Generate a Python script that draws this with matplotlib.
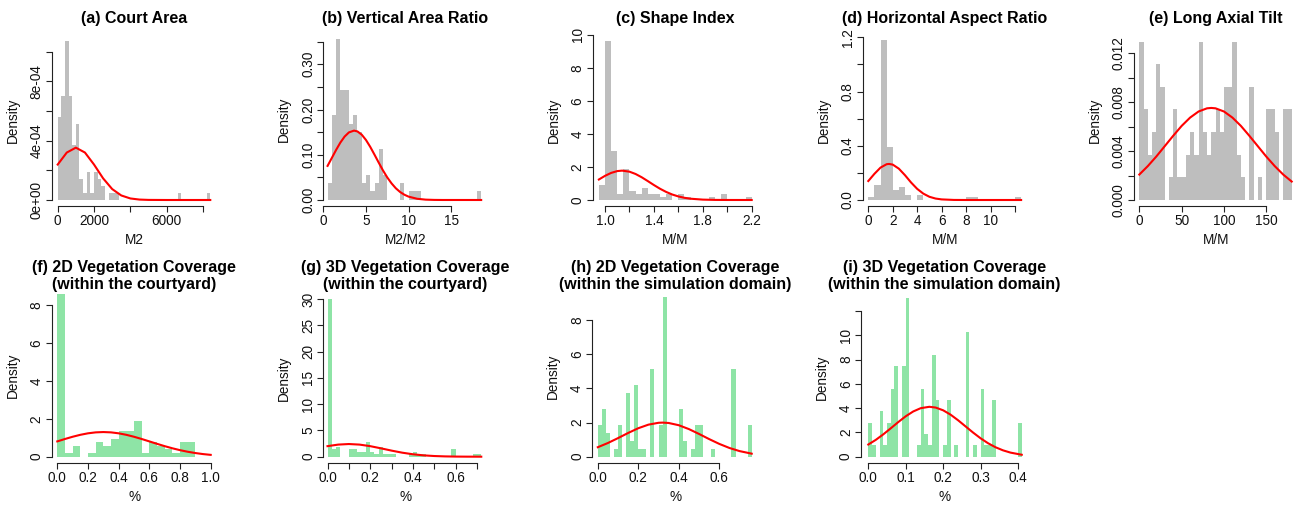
import numpy as np
import matplotlib.pyplot as plt

W, H = 1295, 505
plt.rcParams['font.family'] = ['Liberation Sans', 'DejaVu Sans']

GRAY = '#bebebe'
GREEN = '#8ee4a6'

# ---- (a) Court Area ----
a_start, a_width = 0, 200
a_density = [5.61e-4, 7.01e-4, 10.75e-4, 7.01e-4, 3.74e-4, 5.14e-4, 1.40e-4, 0.47e-4,
             1.87e-4, 0.47e-4, 1.87e-4, 1.40e-4, 0.93e-4, 0, 0.47e-4, 0.47e-4, 0.47e-4,
             0, 0, 0, 0, 0, 0, 0, 0, 0, 0, 0, 0, 0, 0, 0, 0,
             0.47e-4, 0, 0, 0, 0, 0, 0, 0, 0.47e-4]
a_curve_x = [0, 500, 1000, 1500, 2000, 2500, 3000, 3500, 4000, 4500, 5000, 6000, 7000, 8400]
a_curve_y = [2.39e-4, 3.20e-4, 3.53e-4, 3.20e-4, 2.39e-4, 1.46e-4, 0.737e-4, 0.306e-4,
             0.104e-4, 0.029e-4, 0.0067e-4, 0.0001e-4, 0, 0]
a_xticks = [0, 2000, 4000, 6000, 8000]
a_xlabels = ['0', '2000', '', '6000', '']
a_yticks = [0, 2e-4, 4e-4, 6e-4, 8e-4, 1e-3]
a_ylabels = ['0e+00', '', '4e-04', '', '8e-04', '']

# ---- (b) Vertical Area Ratio ----
b_start, b_width = 0.5, 0.5
b_density = [0.037, 0.187, 0.355, 0.243, 0.243, 0.168, 0.187, 0.150, 0.037, 0.056, 0.019,
             0.037, 0.112, 0.056, 0, 0, 0, 0.037, 0, 0.019, 0.019, 0.019,
             0, 0, 0, 0, 0, 0, 0, 0, 0, 0, 0, 0, 0, 0.019]
b_curve_x = [0.5, 1.0, 1.5, 2.0, 2.5, 3.0, 3.6, 4.0, 4.5, 5.0, 5.5, 6.0, 6.5, 7.0, 7.5,
             8.0, 8.5, 9.0, 9.5, 10.0, 11.0, 12.0, 13.0, 14.0, 18.5]
b_curve_y = [0.0754, 0.0930, 0.1107, 0.1270, 0.1403, 0.1494, 0.1534, 0.1516, 0.1445, 0.1327,
             0.1175, 0.1002, 0.0824, 0.0652, 0.0498, 0.0367, 0.0259, 0.0177, 0.0117, 0.0074,
             0.0027, 0.0008, 0.0002, 0.00004, 0]
b_xticks = [0, 5, 10, 15]
b_xlabels = ['0', '5', '10', '15']
b_yticks = [0, 0.05, 0.10, 0.15, 0.20, 0.25, 0.30, 0.35]
b_ylabels = ['0.00', '', '0.10', '', '0.20', '', '0.30', '']

# ---- (c) Shape Index ----
c_start, c_width = 0.95, 0.05
c_density = [0.926, 9.630, 2.963, 0.370, 1.852, 0.556, 0.370, 0.741, 0.370, 0.370, 0.185,
             0.370, 0, 0.370, 0.185, 0, 0, 0, 0.185, 0, 0.370, 0, 0, 0, 0.185]
c_curve_x = [0.95, 1.00, 1.05, 1.10, 1.14, 1.20, 1.25, 1.30, 1.35, 1.40, 1.45, 1.50, 1.55,
             1.60, 1.65, 1.70, 1.80, 1.90, 2.00, 2.20]
c_curve_y = [1.242, 1.464, 1.641, 1.752, 1.780, 1.717, 1.577, 1.379, 1.147, 0.907, 0.683,
             0.490, 0.333, 0.216, 0.133, 0.078, 0.023, 0.0056, 0.001, 0]
c_xticks = [1.0, 1.2, 1.4, 1.6, 1.8, 2.0, 2.2]
c_xlabels = ['1.0', '', '1.4', '', '1.8', '', '2.2']
c_yticks = [0, 2, 4, 6, 8, 10]
c_ylabels = ['0', '2', '4', '6', '8', '10']

# ---- (d) Horizontal Aspect Ratio ----
d_start, d_width = 0, 0.5
d_density = [0.019, 0.112, 1.178, 0.393, 0.075, 0.093, 0.037, 0, 0.037, 0, 0, 0, 0, 0, 0, 0,
             0.019, 0.019, 0, 0, 0, 0, 0, 0, 0.019]
d_curve_x = [0, 0.5, 1.0, 1.5, 1.7, 2.0, 2.5, 3.0, 3.5, 4.0, 4.5, 5.0, 5.5, 6.0, 7.0, 8.0, 12.5]
d_curve_y = [0.140, 0.193, 0.239, 0.264, 0.266, 0.261, 0.231, 0.183, 0.129, 0.082, 0.047,
             0.0237, 0.0107, 0.0044, 0.0005, 0, 0]
d_xticks = [0, 2, 4, 6, 8, 10, 12]
d_xlabels = ['0', '2', '4', '6', '8', '10', '']
d_yticks = [0, 0.2, 0.4, 0.6, 0.8, 1.0, 1.2]
d_ylabels = ['0.0', '', '0.4', '', '0.8', '', '1.2']

# ---- (e) Long Axial Tilt ----
e_start, e_width = 0, 5
e_density = [0.01296, 0.00741, 0.00370, 0.00556, 0.01111, 0.00926, 0, 0.00185, 0.00741,
             0.00185, 0.00185, 0.00370, 0.00556, 0.00370, 0.01296, 0.00556, 0.00370,
             0.00556, 0.00741, 0.00556, 0.00926, 0.00926, 0.01296, 0.00370, 0.00185, 0,
             0.00926, 0, 0.00185, 0, 0.00741, 0.00741, 0.00556, 0, 0.00741, 0.00741]
e_curve_x = [0, 10, 20, 30, 40, 50, 60, 70, 80, 85, 90, 100, 110, 120, 130, 140, 150,
             160, 170, 180]
e_curve_y = [0.00208, 0.00277, 0.00355, 0.00440, 0.00525, 0.00606, 0.00674, 0.00724,
             0.00750, 0.00753, 0.00750, 0.00724, 0.00674, 0.00606, 0.00525, 0.00440,
             0.00355, 0.00277, 0.00208, 0.00151]
e_xticks = [0, 50, 100, 150]
e_xlabels = ['0', '50', '100', '150']
e_yticks = [0, 0.002, 0.004, 0.006, 0.008, 0.010, 0.012]
e_ylabels = ['0.000', '', '0.004', '', '0.008', '', '0.012']

# ---- (f) 2D Vegetation Coverage (courtyard) ----
f_start, f_width = 0, 0.05
f_density = [8.571, 0.190, 0.571, 0, 0.190, 0.762, 0.571, 0.952, 1.333, 1.333, 1.905,
             0.190, 0.762, 0.571, 0.381, 0.190, 0.762, 0.762, 0, 0]
f_curve_x = [0, 0.05, 0.10, 0.15, 0.20, 0.25, 0.30, 0.35, 0.40, 0.45, 0.50, 0.55, 0.60,
             0.65, 0.70, 0.75, 0.80, 0.85, 0.90, 0.95, 1.00]
f_curve_y = [0.807, 0.934, 1.052, 1.154, 1.233, 1.283, 1.300, 1.283, 1.233, 1.154, 1.052,
             0.934, 0.807, 0.679, 0.556, 0.444, 0.345, 0.261, 0.193, 0.138, 0.097]
f_xticks = [0, 0.2, 0.4, 0.6, 0.8, 1.0]
f_xlabels = ['0.0', '0.2', '0.4', '0.6', '0.8', '1.0']
f_yticks = [0, 2, 4, 6, 8]
f_ylabels = ['0', '2', '4', '6', '8']

# ---- (g) 3D Vegetation Coverage (courtyard) ----
g_start, g_width = 0, 0.02
g_density = [29.907, 1.402, 1.869, 0, 0, 1.402, 1.402, 0.935, 0.935, 2.804, 0.935, 0.467,
             1.869, 0.467, 0.467, 0.467, 0, 0, 0, 0.467, 0.935, 0.467, 0.467, 0, 0, 0, 0,
             0, 0, 1.402, 0, 0, 0, 0, 0.467, 0.467]
g_curve_x = [0, 0.05, 0.10, 0.15, 0.20, 0.25, 0.30, 0.35, 0.40, 0.45, 0.50, 0.55, 0.60,
             0.65, 0.72]
g_curve_y = [2.006, 2.302, 2.410, 2.302, 2.006, 1.595, 1.156, 0.765, 0.462, 0.254, 0.128,
             0.0585, 0.0244, 0.0093, 0.002]
g_xticks = [0, 0.1, 0.2, 0.3, 0.4, 0.5, 0.6, 0.7]
g_xlabels = ['0.0', '', '0.2', '', '0.4', '', '0.6', '']
g_yticks = [0, 5, 10, 15, 20, 25, 30]
g_ylabels = ['0', '5', '10', '15', '20', '25', '30']

# ---- (h) 2D Vegetation Coverage (simulation domain) ----
h_start, h_width = 0, 0.02
h_density = [1.869, 2.804, 1.402, 0, 0.467, 1.869, 0, 3.738, 0.935, 4.206, 0.467, 0.467, 0,
             5.140, 0, 1.869, 9.346, 0, 0, 0, 2.804, 0.935, 0, 0.467, 1.869, 1.869, 0, 0,
             0.467, 0, 0, 0, 0, 5.140, 0, 0, 0, 1.869]
h_curve_x = [0, 0.05, 0.10, 0.15, 0.20, 0.25, 0.30, 0.32, 0.35, 0.40, 0.45, 0.50, 0.55,
             0.60, 0.65, 0.70, 0.76]
h_curve_y = [0.555, 0.802, 1.089, 1.390, 1.667, 1.876, 1.985, 1.995, 1.973, 1.842, 1.615,
             1.331, 1.030, 0.749, 0.511, 0.328, 0.177]
h_xticks = [0, 0.2, 0.4, 0.6]
h_xlabels = ['0.0', '0.2', '0.4', '0.6']
h_yticks = [0, 2, 4, 6, 8]
h_ylabels = ['0', '2', '4', '6', '8']

# ---- (i) 3D Vegetation Coverage (simulation domain) ----
i_start, i_width = 0, 0.01
i_density = [2.804, 0.935, 0, 3.738, 0.935, 2.804, 5.607, 7.477, 0, 7.477, 13.084, 0, 0,
             0.935, 5.607, 1.869, 0.935, 8.411, 4.673, 0, 0.935, 4.673, 0, 0.935, 0, 0,
             10.280, 0, 0.935, 0, 5.607, 0.935, 0.935, 4.673, 0, 0, 0, 0, 0, 0, 2.804]
i_curve_x = [0, 0.02, 0.04, 0.06, 0.08, 0.10, 0.12, 0.14, 0.163, 0.18, 0.20, 0.22, 0.24,
             0.26, 0.28, 0.30, 0.32, 0.34, 0.36, 0.38, 0.41]
i_curve_y = [1.003, 1.386, 1.840, 2.338, 2.850, 3.329, 3.725, 3.996, 4.110, 4.047, 3.822,
             3.459, 2.999, 2.493, 1.987, 1.517, 1.109, 0.777, 0.523, 0.337, 0.160]
i_xticks = [0, 0.1, 0.2, 0.3, 0.4]
i_xlabels = ['0.0', '0.1', '0.2', '0.3', '0.4']
i_yticks = [0, 2, 4, 6, 8, 10, 12]
i_ylabels = ['0', '2', '4', '6', '8', '10', '']

titles = ['(a) Court Area', '(b) Vertical Area Ratio', '(c) Shape Index',
          '(d) Horizontal Aspect Ratio', '(e) Long Axial Tilt',
          '(f) 2D Vegetation Coverage\n(within the courtyard)',
          '(g) 3D Vegetation Coverage\n(within the courtyard)',
          '(h) 2D Vegetation Coverage\n(within the simulation domain)',
          '(i) 3D Vegetation Coverage\n(within the simulation domain)']
xlabels = ['M2', 'M2/M2', 'M/M', 'M/M', 'M/M', '%', '%', '%', '%']

panels = [
    (a_start, a_width, a_density, a_curve_x, a_curve_y, a_xticks, a_xlabels, a_yticks, a_ylabels, GRAY),
    (b_start, b_width, b_density, b_curve_x, b_curve_y, b_xticks, b_xlabels, b_yticks, b_ylabels, GRAY),
    (c_start, c_width, c_density, c_curve_x, c_curve_y, c_xticks, c_xlabels, c_yticks, c_ylabels, GRAY),
    (d_start, d_width, d_density, d_curve_x, d_curve_y, d_xticks, d_xlabels, d_yticks, d_ylabels, GRAY),
    (e_start, e_width, e_density, e_curve_x, e_curve_y, e_xticks, e_xlabels, e_yticks, e_ylabels, GRAY),
    (f_start, f_width, f_density, f_curve_x, f_curve_y, f_xticks, f_xlabels, f_yticks, f_ylabels, GREEN),
    (g_start, g_width, g_density, g_curve_x, g_curve_y, g_xticks, g_xlabels, g_yticks, g_ylabels, GREEN),
    (h_start, h_width, h_density, h_curve_x, h_curve_y, h_xticks, h_xlabels, h_yticks, h_ylabels, GREEN),
    (i_start, i_width, i_density, i_curve_x, i_curve_y, i_xticks, i_xlabels, i_yticks, i_ylabels, GREEN),
]

# pixel layout: y-axis x, x-axis y, (v0, px0, v1, px1) for x and y
layout = [
    (51.7, 206, (0, 57.7, 8000, 203), (0, 200, 1e-3, 51.7)),
    (323.3, 206, (0, 323.3, 15, 451.3), (0, 200, 0.3, 64.3)),
    (592.7, 206, (1.0, 605, 2.2, 751.7), (0, 200, 10, 35)),
    (862.7, 206, (0, 868.3, 12, 1015), (0, 200, 1.2, 37.3)),
    (1133.7, 206, (0, 1139.3, 150, 1266.3), (0, 200, 0.012, 53.3)),
    (51.7, 462.7, (0, 57.3, 1.0, 210.7), (0, 456.7, 8, 305)),
    (323.3, 462.7, (0, 327.5, 0.7, 477), (0, 456.7, 30, 299)),
    (592.3, 462.7, (0, 597.8, 0.6, 719.3), (0, 456.7, 8, 320)),
    (861, 462.7, (0, 868.3, 0.4, 1018), (0, 456.7, 12, 311)),
]

fig = plt.figure(figsize=(W / 100, H / 100), dpi=100)

for k, (p, lay) in enumerate(zip(panels, layout)):
    start, width, dens, cx, cy, xt, xtl, yt, ytl, col = p
    yax, xax, (v0, p0, v1, p1), (u0, q0, u1, q1) = lay
    sx = (p1 - p0) / (v1 - v0)
    sy = (q0 - q1) / (u1 - u0)
    lo = start
    hi = start + width * len(dens)
    xhi = hi + 0.04 * (hi - lo)
    yhi = 1.04 * max(dens)
    xlo = v0 - (p0 - yax) / sx
    ylo = u0 - (xax - q0) / sy
    right = p0 + (xhi - v0) * sx
    top = q0 - (yhi - u0) * sy
    ax = fig.add_axes([yax / W, 1 - xax / H, (right - yax) / W, (xax - top) / H])
    ax.set_xlim(xlo, xhi)
    ax.set_ylim(ylo, yhi)
    lefts = start + width * np.arange(len(dens))
    ax.bar(lefts, dens, width=width, align='edge', color=col, linewidth=0)
    ax.plot(cx, cy, color='red', lw=1.5)
    ax.patch.set_visible(False)
    for s in ['top', 'right']:
        ax.spines[s].set_visible(False)
    ax.spines['left'].set_bounds(yt[0], yt[-1])
    ax.spines['bottom'].set_bounds(xt[0], xt[-1])
    for s in ['left', 'bottom']:
        ax.spines[s].set_linewidth(0.8)
        ax.spines[s].set_color('#222222')
    ax.set_xticks(xt)
    ax.set_xticklabels(xtl)
    ax.set_yticks(yt)
    ax.set_yticklabels(ytl, rotation=90, va='center')
    ax.tick_params(direction='out', length=4.3, width=0.8, color='#222222',
                   labelsize=9.8, pad=1.5, labelcolor='#111111')
    cxp = (yax + right) / 2
    if k < 5:
        fig.text(cxp / W, 1 - 18 / H, titles[k], ha='center', va='center',
                 fontsize=11.5, fontweight='bold')
    else:
        fig.text(cxp / W, 1 - 276 / H, titles[k], ha='center', va='center',
                 fontsize=11.5, fontweight='bold', linespacing=1.1)
    fig.text(cxp / W, 1 - (xax + 34) / H, xlabels[k], ha='center', va='center',
             fontsize=9.8, color='#111111')
    fig.text((yax - 39) / W, 1 - ((xax + top) / 2) / H, 'Density', ha='center',
             va='center', rotation=90, fontsize=9.8, color='#111111')

fig.savefig('out.png', dpi=100)
